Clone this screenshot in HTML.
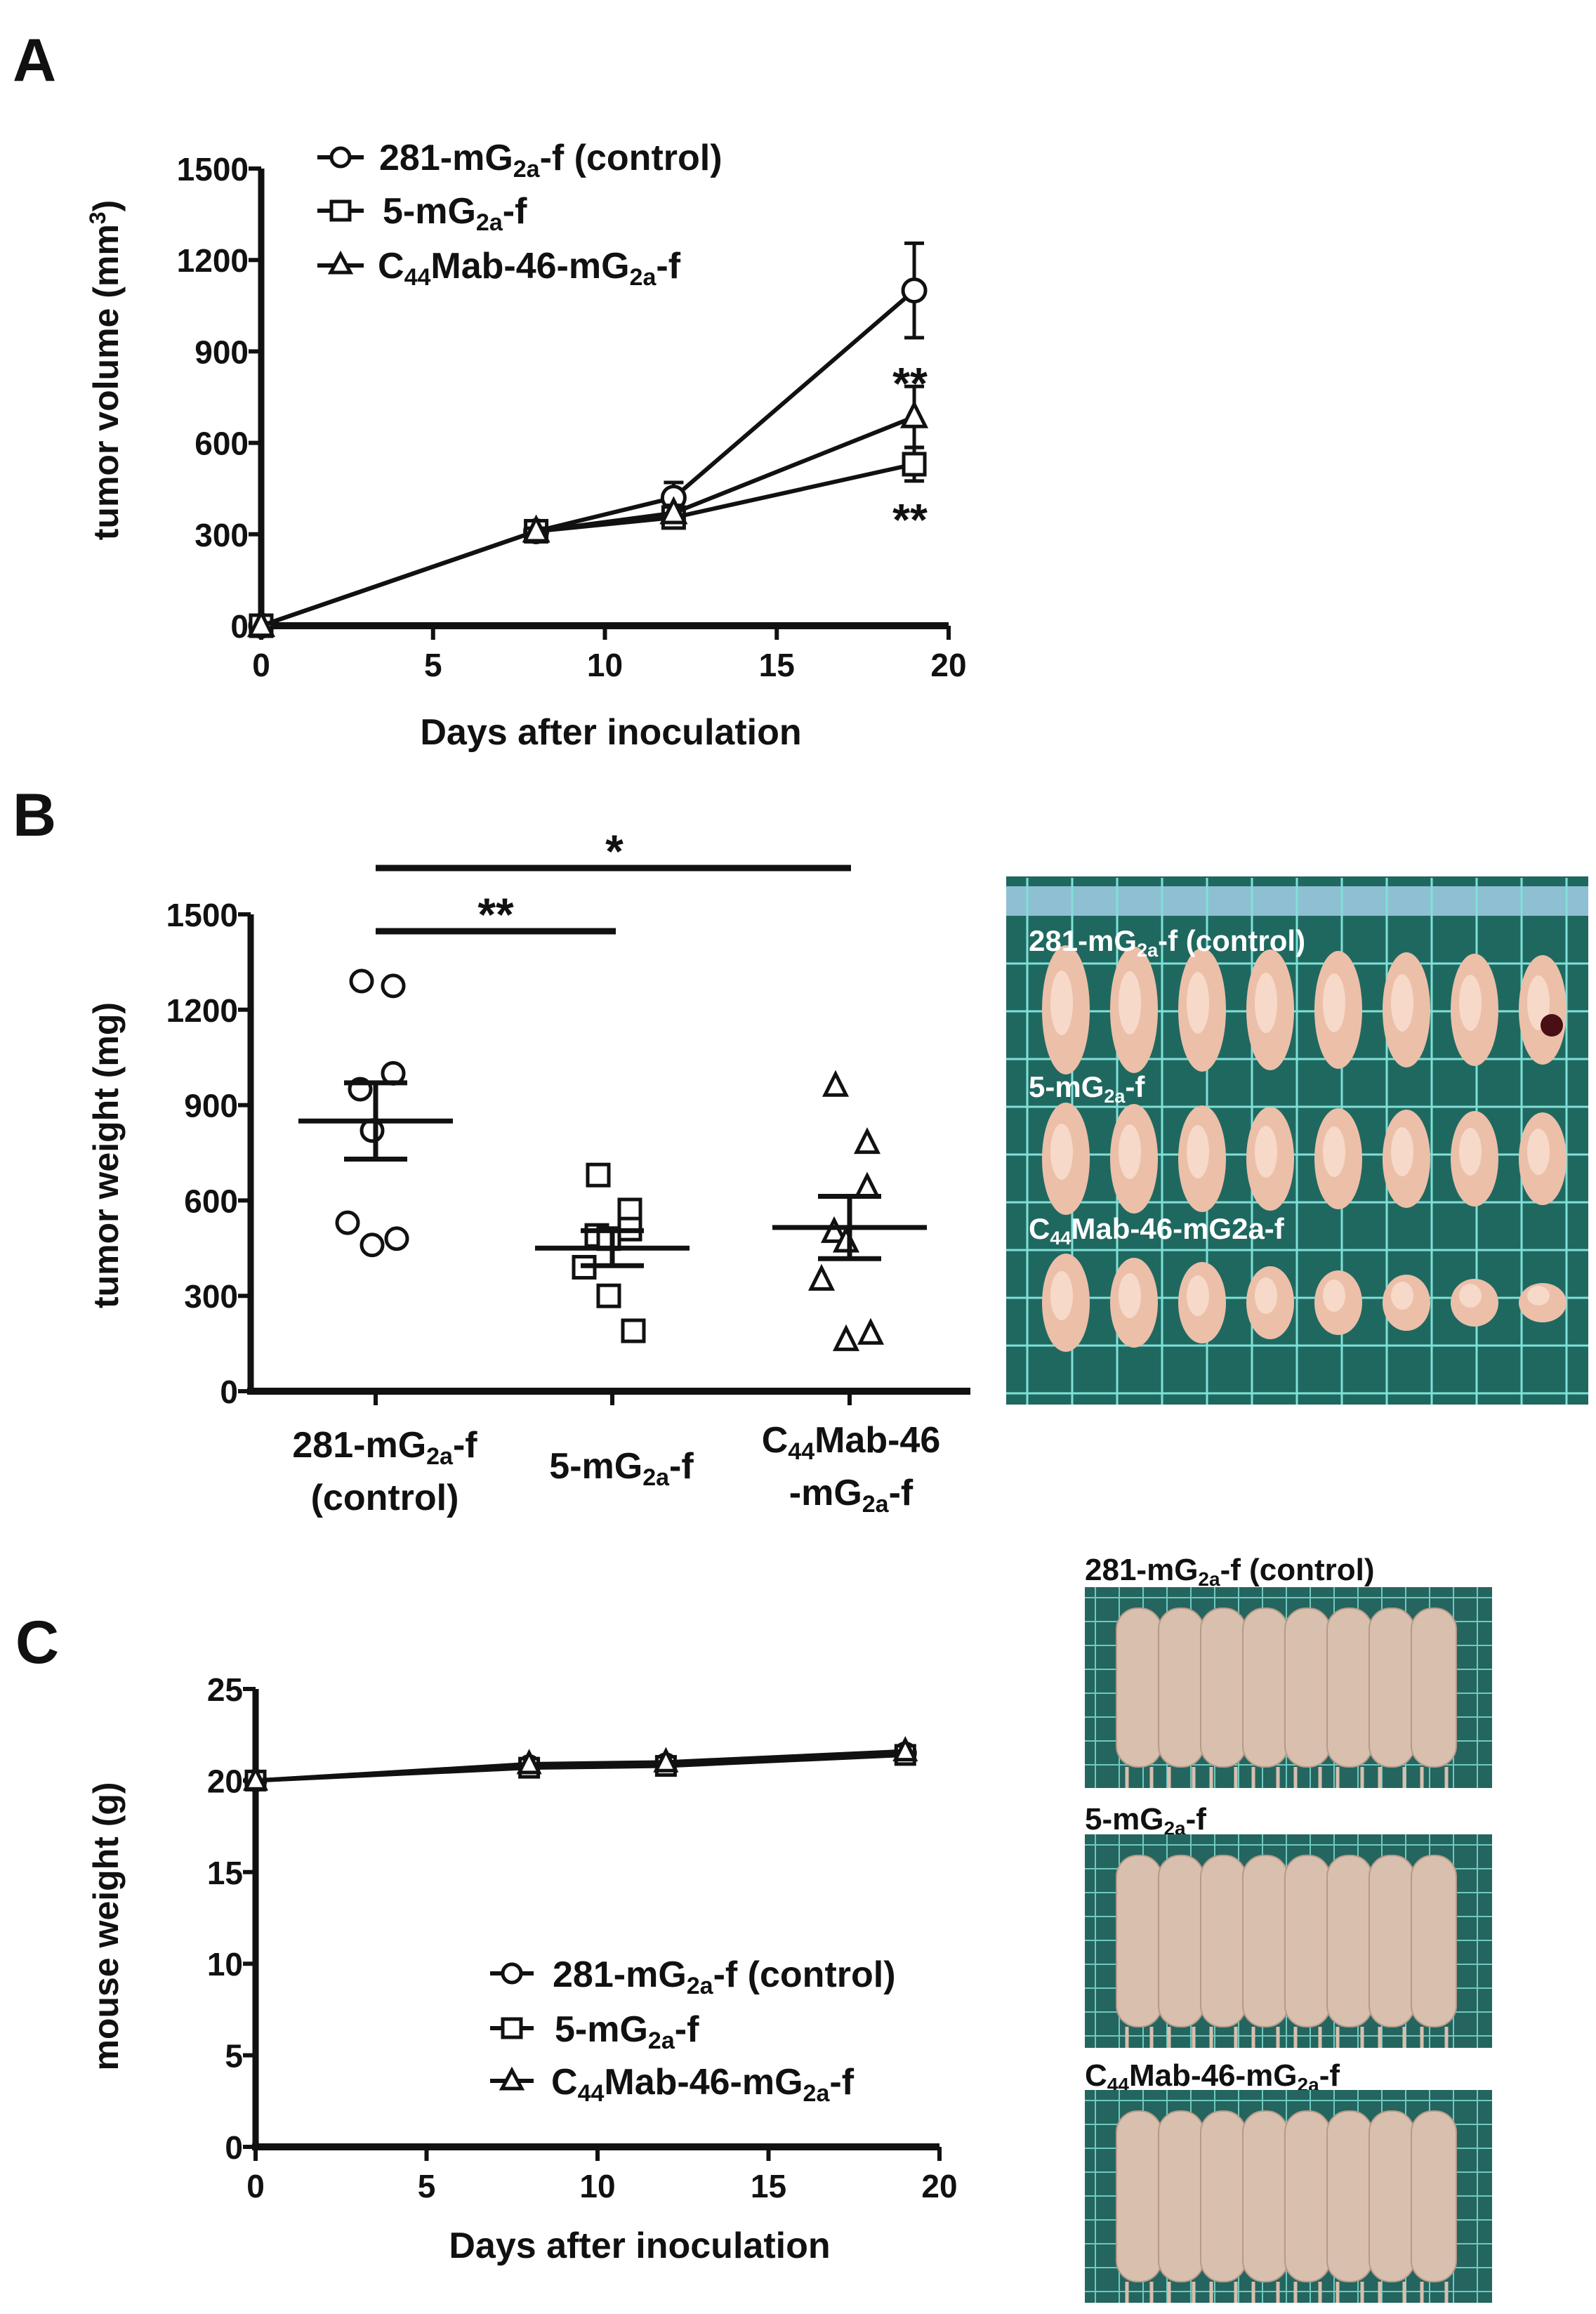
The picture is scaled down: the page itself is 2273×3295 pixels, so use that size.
<!DOCTYPE html>
<html><head><meta charset="utf-8"><style>
html,body{margin:0;padding:0;background:#fff;}
svg{display:block;}
.t{font-family:"Liberation Sans",sans-serif;font-weight:bold;fill:#111;}
.w{font-family:"Liberation Sans",sans-serif;font-weight:bold;fill:#111;}
.pl{font-family:"Liberation Sans",sans-serif;font-weight:bold;fill:#fff;}
</style></head><body>
<svg id="fig" width="2273" height="3295" viewBox="0 0 2273 3295" xmlns="http://www.w3.org/2000/svg">
<g id="gA">
 <text class="w" x="18" y="115" font-size="86">A</text>
 <text class="w" transform="translate(168,527) rotate(-90)" text-anchor="middle" font-size="50">tumor volume (mm<tspan font-size="32" dy="-18">3</tspan><tspan dy="18">)</tspan></text>
 <text class="w" x="870" y="1060" text-anchor="middle" font-size="52">Days after inoculation</text>
 <g>
  <g><line x1="452" y1="224" x2="518" y2="224" stroke="#111" stroke-width="6"/><circle cx="485" cy="224" r="13" fill="#fff" stroke="#111" stroke-width="5"/>
  <text class="t" x="540" y="242" font-size="52">281-mG<tspan font-size="34" dy="10">2a</tspan><tspan dy="-10">-f (control)</tspan></text></g>
  <g><line x1="452" y1="300" x2="518" y2="300" stroke="#111" stroke-width="6"/><rect x="472" y="287" width="26" height="26" fill="#fff" stroke="#111" stroke-width="5"/>
  <text class="t" x="545" y="318" font-size="52">5-mG<tspan font-size="34" dy="10">2a</tspan><tspan dy="-10">-f</tspan></text></g>
  <g><line x1="452" y1="378" x2="518" y2="378" stroke="#111" stroke-width="6"/><polygon points="485,362 499,388 471,388" fill="#fff" stroke="#111" stroke-width="5"/>
  <text class="t" x="538" y="396" font-size="52">C<tspan font-size="34" dy="10">44</tspan><tspan dy="-10">Mab-46-mG</tspan><tspan font-size="34" dy="10">2a</tspan><tspan dy="-10">-f</tspan></text></g>
 </g>
 <text class="w" x="1296" y="568" text-anchor="middle" font-size="64">**</text>
 <text class="w" x="1296" y="762" text-anchor="middle" font-size="64">**</text>
</g>
<g id="gB">
 <text class="w" x="18" y="1190" font-size="86">B</text>
 <text class="w" transform="translate(168,1645) rotate(-90)" text-anchor="middle" font-size="50">tumor weight (mg)</text>
 <line x1="535" y1="1236" x2="1212" y2="1236" stroke="#111" stroke-width="9"/>
 <text class="w" x="875" y="1235" text-anchor="middle" font-size="66">*</text>
 <line x1="535" y1="1326" x2="877" y2="1326" stroke="#111" stroke-width="9"/>
 <text class="w" x="706" y="1325" text-anchor="middle" font-size="66">**</text>
 <g>
  <text class="t" x="548" y="2075" text-anchor="middle" font-size="52">281-mG<tspan font-size="34" dy="10">2a</tspan><tspan dy="-10">-f</tspan></text>
  <text class="t" x="548" y="2150" text-anchor="middle" font-size="52">(control)</text>
  <text class="t" x="885" y="2105" text-anchor="middle" font-size="52">5-mG<tspan font-size="34" dy="10">2a</tspan><tspan dy="-10">-f</tspan></text>
  <text class="t" x="1212" y="2068" text-anchor="middle" font-size="52">C<tspan font-size="34" dy="10">44</tspan><tspan dy="-10">Mab-46</tspan></text>
  <text class="t" x="1212" y="2143" text-anchor="middle" font-size="52">-mG<tspan font-size="34" dy="10">2a</tspan><tspan dy="-10">-f</tspan></text>
 </g>
 <g id="photoB"></g>
</g>
<g id="gC">
 <text class="w" x="22" y="2368" font-size="86">C</text>
 <text class="w" transform="translate(168,2743) rotate(-90)" text-anchor="middle" font-size="50">mouse weight (g)</text>
 <text class="t" x="911" y="3215" text-anchor="middle" font-size="52">Days after inoculation</text>
 <g>
  <g><line x1="698" y1="2810" x2="760" y2="2810" stroke="#111" stroke-width="6"/><circle cx="729" cy="2810" r="13" fill="#fff" stroke="#111" stroke-width="5"/>
  <text class="t" x="787" y="2829" font-size="52">281-mG<tspan font-size="34" dy="10">2a</tspan><tspan dy="-10">-f (control)</tspan></text></g>
  <g><line x1="698" y1="2888" x2="760" y2="2888" stroke="#111" stroke-width="6"/><rect x="716" y="2875" width="26" height="26" fill="#fff" stroke="#111" stroke-width="5"/>
  <text class="t" x="790" y="2907" font-size="52">5-mG<tspan font-size="34" dy="10">2a</tspan><tspan dy="-10">-f</tspan></text></g>
  <g><line x1="698" y1="2963" x2="760" y2="2963" stroke="#111" stroke-width="6"/><polygon points="729,2948 743,2974 715,2974" fill="#fff" stroke="#111" stroke-width="5"/>
  <text class="t" x="785" y="2982" font-size="52">C<tspan font-size="34" dy="10">44</tspan><tspan dy="-10">Mab-46-mG</tspan><tspan font-size="34" dy="10">2a</tspan><tspan dy="-10">-f</tspan></text></g>
 </g>
 <text class="t" x="1545" y="2250" font-size="44">281-mG<tspan font-size="28" dy="8">2a</tspan><tspan dy="-8">-f (control)</tspan></text>
 <text class="t" x="1545" y="2605" font-size="44">5-mG<tspan font-size="28" dy="8">2a</tspan><tspan dy="-8">-f</tspan></text>
 <text class="t" x="1545" y="2970" font-size="44">C<tspan font-size="28" dy="8">44</tspan><tspan dy="-8">Mab-46-mG</tspan><tspan font-size="28" dy="8">2a</tspan><tspan dy="-8">-f</tspan></text>
 <g id="photoC"></g>
</g>
</svg>
<script>
// ---- Panel A data ----
const daysA = [0, 8, 12, 19];
const controlVol = [0, 310, 420, 1100];
const controlErr = [0, 10, 50, 155];
const mg5Vol = [0, 310, 355, 530];
const mg5Err = [0, 10, 20, 55];
const c44Vol = [0, 310, 370, 685];
const c44Err = [0, 10, 25, 100];
const yTicksA = [0, 300, 600, 900, 1200, 1500];
const xTicks = [0, 5, 10, 15, 20];
// ---- Panel B data ----
const groupsB = ['281-mG2a-f (control)', '5-mG2a-f', 'C44Mab-46-mG2a-f'];
const weightsControl = [1290, 1275, 1000, 950, 820, 530, 460, 480];
const weights5mg = [680, 570, 510, 490, 480, 390, 300, 190];
const weightsC44 = [960, 780, 640, 500, 470, 350, 160, 180];
const meanB = [850, 450, 515];
const semB = [120, 55, 98];
const yTicksB = [0, 300, 600, 900, 1200, 1500];
// ---- Panel C data ----
const daysC = [0, 8, 12, 19];
const controlWt = [20, 20.8, 20.9, 21.5];
const mg5Wt = [20, 20.7, 20.8, 21.4];
const c44Wt = [20, 20.9, 21.0, 21.6];
const yTicksC = [0, 5, 10, 15, 20, 25];

const NS = 'http://www.w3.org/2000/svg';
function mk(parent, tag, attrs) {
  const e = document.createElementNS(NS, tag);
  for (const k in attrs) e.setAttribute(k, attrs[k]);
  parent.appendChild(e);
  return e;
}
function marker(g, kind, x, y, r, sw) {
  let e;
  if (kind === 'circle') e = mk(g, 'circle', {cx: x, cy: y, r: r, fill: '#fff', stroke: '#111', 'stroke-width': sw});
  else if (kind === 'square') e = mk(g, 'rect', {x: x - r, y: y - r, width: 2 * r, height: 2 * r, fill: '#fff', stroke: '#111', 'stroke-width': sw});
  else e = mk(g, 'polygon', {points: `${x},${y - r * 1.15} ${x + r},${y + r * 0.85} ${x - r},${y + r * 0.85}`, fill: '#fff', stroke: '#111', 'stroke-width': sw});
  return e;
}
function axes(g, x0, x1, yTop, yBot, yT, yFn, xT, xFn, tickFs, name) {
  const ax = mk(g, 'g', {});
  
  
  mk(ax, 'line', {x1: x0, y1: yTop, x2: x0, y2: yBot + 5, stroke: '#111', 'stroke-width': 9});
  mk(ax, 'line', {x1: x0 - 5, y1: yBot, x2: x1, y2: yBot, stroke: '#111', 'stroke-width': 10});
  yT.forEach(v => {
    const y = yFn(v);
    mk(ax, 'line', {x1: x0 - 18, y1: y, x2: x0, y2: y, stroke: '#111', 'stroke-width': 6});
    const t = mk(ax, 'text', {x: x0 - 18, y: y + 17, 'text-anchor': 'end', 'font-size': tickFs, class: 't'});
    t.textContent = v;
    
    
  });
  if (xT) xT.forEach(v => {
    const x = xFn(v);
    mk(ax, 'line', {x1: x, y1: yBot, x2: x, y2: yBot + 20, stroke: '#111', 'stroke-width': 6});
    const t = mk(ax, 'text', {x: x, y: yBot + 72, 'text-anchor': 'middle', 'font-size': tickFs, class: 't'});
    t.textContent = v;
    
    
  });
}
function series(g, xs, ys, errs, xFn, yFn, kind, r, name) {
  const s = mk(g, 'g', {});
  
  
  const pts = xs.map((d, i) => xFn(d) + ',' + yFn(ys[i])).join(' ');
  mk(s, 'polyline', {points: pts, fill: 'none', stroke: '#111', 'stroke-width': 6});
  xs.forEach((d, i) => {
    const x = xFn(d), y = yFn(ys[i]);
    if (errs && errs[i] > 0) {
      const y1 = yFn(ys[i] + errs[i]), y2 = yFn(ys[i] - errs[i]);
      mk(s, 'line', {x1: x, y1: y1, x2: x, y2: y2, stroke: '#111', 'stroke-width': 5});
      mk(s, 'line', {x1: x - 14, y1: y1, x2: x + 14, y2: y1, stroke: '#111', 'stroke-width': 5});
      mk(s, 'line', {x1: x - 14, y1: y2, x2: x + 14, y2: y2, stroke: '#111', 'stroke-width': 5});
    }
    const m = marker(s, kind, x, y, r, 5);
    
    
  });
}
// Panel A
const gA = document.getElementById('gA');
const xA = d => 372 + d * (1351 - 372) / 20;
const yA = v => 891 - v * (651 / 1500);
axes(gA, 372, 1351, 240, 891, yTicksA, yA, xTicks, xA, 46, 'a');
series(gA, daysA, controlVol, controlErr, xA, yA, 'circle', 16, 'series-control');
series(gA, daysA, mg5Vol, mg5Err, xA, yA, 'square', 15, 'series-5mg');
series(gA, daysA, c44Vol, c44Err, xA, yA, 'triangle', 16, 'series-c44');

// Panel B
const gB = document.getElementById('gB');
const catX = [535, 872, 1210];
const yB = v => 1981 - v * (679 / 1500);
axes(gB, 357, 1382, 1302, 1981, yTicksB, yB, null, null, 46, 'b');
catX.forEach(x => mk(gB, 'line', {x1: x, y1: 1981, x2: x, y2: 2001, stroke: '#111', 'stroke-width': 6}));
const jitter = [-20, 25, 25, -22, -5, -40, -5, 30];
const groupData = [weightsControl, weights5mg, weightsC44];
const kinds = ['circle', 'square', 'triangle'];
groupData.forEach((arr, gi) => {
  const g = mk(gB, 'g', {});
  
  
  arr.forEach((v, i) => {
    const m = marker(g, kinds[gi], catX[gi] + jitter[i], yB(v), 15, 5);
    
    
  });
  const cx = catX[gi];
  mk(g, 'line', {x1: cx - 110, y1: yB(meanB[gi]), x2: cx + 110, y2: yB(meanB[gi]), stroke: '#111', 'stroke-width': 7});
  mk(g, 'line', {x1: cx, y1: yB(meanB[gi] + semB[gi]), x2: cx, y2: yB(meanB[gi] - semB[gi]), stroke: '#111', 'stroke-width': 7});
  mk(g, 'line', {x1: cx - 45, y1: yB(meanB[gi] + semB[gi]), x2: cx + 45, y2: yB(meanB[gi] + semB[gi]), stroke: '#111', 'stroke-width': 7});
  mk(g, 'line', {x1: cx - 45, y1: yB(meanB[gi] - semB[gi]), x2: cx + 45, y2: yB(meanB[gi] - semB[gi]), stroke: '#111', 'stroke-width': 7});
});

// tumor photo (decorative)
const pB = document.getElementById('photoB');
mk(pB, 'rect', {x: 1433, y: 1248, width: 829, height: 752, fill: '#1f6860'});
mk(pB, 'rect', {x: 1433, y: 1262, width: 829, height: 42, fill: '#8fbfd3'});
for (let x = 1433 + 30; x < 2262; x += 64) mk(pB, 'line', {x1: x, y1: 1250, x2: x, y2: 2000, stroke: '#7fe0d8', 'stroke-width': 3});
for (let y = 1372; y < 2000; y += 68) mk(pB, 'line', {x1: 1433, y1: y, x2: 2262, y2: y, stroke: '#7fe0d8', 'stroke-width': 3});
[1438, 1650, 1855].forEach((cy, r) => {
  for (let i = 0; i < 8; i++) {
    const cx = 1518 + i * 97;
    const h = [92, 80, 70][r] - (r === 2 ? i * 6 : i * 2);
    mk(pB, 'ellipse', {cx: cx, cy: cy, rx: 34, ry: h, fill: '#ecbfa8'});
    mk(pB, 'ellipse', {cx: cx - 6, cy: cy - 10, rx: 16, ry: h * 0.5, fill: '#f6d9c8'});
  }
});
mk(pB, 'circle', {cx: 2210, cy: 1460, r: 16, fill: '#4a0f14'});
[['281-mG', '2a', '-f (control)', 1340], ['5-mG', '2a', '-f', 1548], ['C', '44', 'Mab-46-mG2a-f', 1750]].forEach(l => {
  const t = mk(pB, 'text', {x: 1465, y: l[3] + 14, 'font-size': 42, class: 'pl'});
  
  
  t.textContent = l[0];
  const s = mk(t, 'tspan', {'font-size': 27, dy: 8}); s.textContent = l[1];
  const r2 = mk(t, 'tspan', {dy: -8}); r2.textContent = l[2];
});

// Panel C
const gC = document.getElementById('gC');
const xC = d => 364 + d * (974 / 20);
const yC = v => 3057 - v * (652 / 25);
axes(gC, 364, 1338, 2405, 3057, yTicksC, yC, xTicks, xC, 46, 'c');
series(gC, daysC, controlWt, null, xC, yC, 'circle', 14, 'series-control-c');
series(gC, daysC, mg5Wt, null, xC, yC, 'square', 13, 'series-5mg-c');
series(gC, daysC, c44Wt, null, xC, yC, 'triangle', 14, 'series-c44-c');

const pC = document.getElementById('photoC');
[[2260, 2546], [2612, 2916], [2976, 3279]].forEach(b => {
  mk(pC, 'rect', {x: 1545, y: b[0], width: 580, height: b[1] - b[0], fill: '#24655f'});
  for (let x = 1560; x < 2125; x += 34) mk(pC, 'line', {x1: x, y1: b[0], x2: x, y2: b[1], stroke: '#6fc9c0', 'stroke-width': 2});
  for (let y = b[0] + 15; y < b[1]; y += 34) mk(pC, 'line', {x1: 1545, y1: y, x2: 2125, y2: y, stroke: '#6fc9c0', 'stroke-width': 2});
  for (let i = 0; i < 8; i++) {
    mk(pC, 'rect', {x: 1590 + i * 60, y: b[0] + 30, width: 64, height: b[1] - b[0] - 60, rx: 30, fill: '#d8bfae', stroke: '#b69a88', 'stroke-width': 2});
    mk(pC, 'line', {x1: 1605 + i * 60, y1: b[1] - 30, x2: 1605 + i * 60, y2: b[1], stroke: '#d8bfae', 'stroke-width': 5});
    mk(pC, 'line', {x1: 1640 + i * 60, y1: b[1] - 30, x2: 1640 + i * 60, y2: b[1], stroke: '#d8bfae', 'stroke-width': 5});
  }
});
</script>
</body></html>
